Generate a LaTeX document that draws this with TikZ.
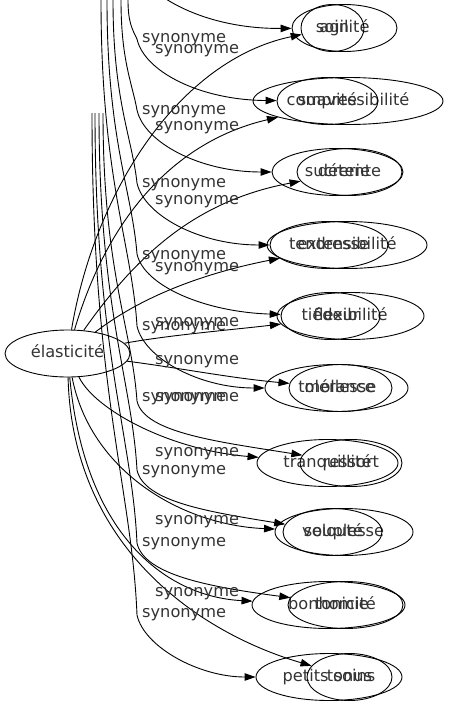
\documentclass[tikz,border=0pt]{standalone}
\usepackage{fontspec}
\setmainfont{DejaVu Sans}
\usetikzlibrary{arrows.meta,shapes.geometric}
\begin{document}
\begin{tikzpicture}[x=1pt,y=-1pt,
  every node/.style={font=\fontsize{16.2}{19}\selectfont},
  word/.style={draw, ellipse, inner sep=0pt, line width=0.9pt, minimum height=47pt, text height=12pt, text depth=4pt, text=black!80},
  syn/.style={anchor=west, inner sep=0pt, text height=12pt, text depth=4pt, text=black!80},
  rel/.style={draw, line width=0.9pt, -{Triangle[length=11pt,width=7.5pt]}}]
\useasboundingbox (0,0) rectangle (448,707);
\clip (0,0) rectangle (448,707);
% centre
\node[word, minimum width=125pt] (el) at (67.5,353.5) {élasticité};
% row 1
\node[word, minimum width=105pt] (agilite) at (344.5,28) {agilité};
\node[word, minimum width=63pt] (soin) at (332.5,28) {soin};
% row 2
\node[word, minimum width=190pt] (compr) at (348,101) {compressibilité};
\node[word, minimum width=101pt] (suav) at (327.5,101) {suavité};
% row 3
\node[word, minimum width=131pt] (sucr) at (337.5,172) {sucrerie};
\node[word, minimum width=105pt] (detente) at (349.5,172) {détente};
% row 4
\node[word, minimum width=160pt] (ext) at (347,245) {extensibilité};
\node[word, minimum width=118pt] (tend) at (329,245) {tendresse};
% row 5
\node[word, minimum width=147pt] (flex) at (350.5,316) {flexibilité};
\node[word, minimum width=99pt] (tied) at (330.5,316) {tiédeur};
% row 6
\node[word, minimum width=143pt] (tol) at (336.5,388) {tolérance};
\node[word, minimum width=103pt] (moll) at (340.5,388) {mollesse};
% row 7
\node[word, minimum width=141pt] (tranq) at (327.5,463) {tranquillité};
\node[word, minimum width=102pt] (ress) at (351,463) {ressort};
% row 8
\node[word, minimum width=138pt] (soupl) at (344,532) {souplesse};
\node[word, minimum width=99pt] (velo) at (332.5,532) {velouté};
% row 9
\node[word, minimum width=153pt] (bonh) at (328.5,605) {bonhomie};
\node[word, minimum width=115pt] (toni) at (345.5,605) {tonicité};
% row 10
\node[word, minimum width=146pt] (psoins) at (329,677) {petits soins};
\node[word, minimum width=85pt] (tonus) at (349.5,677) {tonus};
% free ends of the connectors coming from above
\coordinate (s1) at (132,-40);
\coordinate (s2) at (128,0);
\coordinate (s3) at (121,0);
\coordinate (s4) at (113,0);
\coordinate (s5) at (107,0);
\coordinate (s6) at (101,0);
\coordinate (s7) at (103,113);
\coordinate (s8) at (99,113);
\coordinate (s9) at (95,113);
\coordinate (s10) at (92,113);
% connectors from above
\draw[rel] (s1) .. controls (140,-8) and (200,29) .. (agilite);
\draw[rel] (s2) .. controls (128,21.5) and (132,29) .. (137,39) .. controls (144,71) and (199,100) .. (suav);
\draw[rel] (s3) .. controls (121,60.5) and (132,82.5) .. (137,110) .. controls (144,142) and (199,172) .. (sucr);
\draw[rel] (s4) .. controls (113,100.6) and (132,137) .. (137,183) .. controls (144,215) and (199,245) .. (tend);
\draw[rel] (s5) .. controls (107,140) and (132,190.5) .. (137,254) .. controls (144,286) and (205,312) .. (tied);
\draw[rel] (s6) .. controls (101,179) and (132,244.5) .. (137,326) .. controls (144,358) and (199,388) .. (tol);
\draw[rel] (s7) .. controls (103,271) and (132,329) .. (137,401) .. controls (144,433) and (220,442) .. (ress);
\draw[rel] (s8) .. controls (99,309) and (132,381) .. (137,470) .. controls (144,502) and (210,512) .. (velo);
\draw[rel] (s9) .. controls (95,349.5) and (132,435.5) .. (137,543) .. controls (144,575) and (210,587) .. (toni);
\draw[rel] (s10) .. controls (92,389) and (132,489.5) .. (137,615) .. controls (144,647) and (199,677) .. (psoins);
% connectors from élasticité
\draw[rel] (el) .. controls (95,190) and (180,60) .. (soin);
\draw[rel] (el) .. controls (110,210) and (180,140) .. (compr);
\draw[rel] (el) .. controls (140,250) and (200,200) .. (detente);
\draw[rel] (el) .. controls (150,290) and (220,270) .. (ext);
\draw[rel] (el) .. controls (170,335) and (230,330) .. (flex);
\draw[rel] (el) .. controls (180,368) and (230,378) .. (moll);
\draw[rel] (el) .. controls (95,410) and (170,450) .. (tranq);
\draw[rel] (el) .. controls (90,470) and (180,525) .. (soupl);
\draw[rel] (el) .. controls (85,540) and (170,597) .. (bonh);
\draw[rel] (el) .. controls (72,540) and (190,630) .. (tonus);
% labels
\node[syn] (la2) at (142,38) {synonyme};
\node[syn] (la3) at (142,110) {synonyme};
\node[syn] (la4) at (142,183) {synonyme};
\node[syn] (la5) at (142,255) {synonyme};
\node[syn] (la6) at (142,326) {synonyme};
\node[syn] (la7) at (142,397) {synonyme};
\node[syn] (la8) at (142,470) {synonyme};
\node[syn] (la9) at (142,542) {synonyme};
\node[syn] (la10) at (142,613) {synonyme};
\node[syn] (lb1) at (155,49) {synonyme};
\node[syn] (lb2) at (155,126) {synonyme};
\node[syn] (lb3) at (155,200) {synonyme};
\node[syn] (lb4) at (155,267) {synonyme};
\node[syn] (lb5) at (155,322) {synonyme};
\node[syn] (lb6) at (155,360) {synonyme};
\node[syn] (lb7) at (155,397) {synonyme};
\node[syn] (lb8) at (155,452) {synonyme};
\node[syn] (lb9) at (155,520) {synonyme};
\node[syn] (lb10) at (155,592) {synonyme};
\end{tikzpicture}
\end{document}
